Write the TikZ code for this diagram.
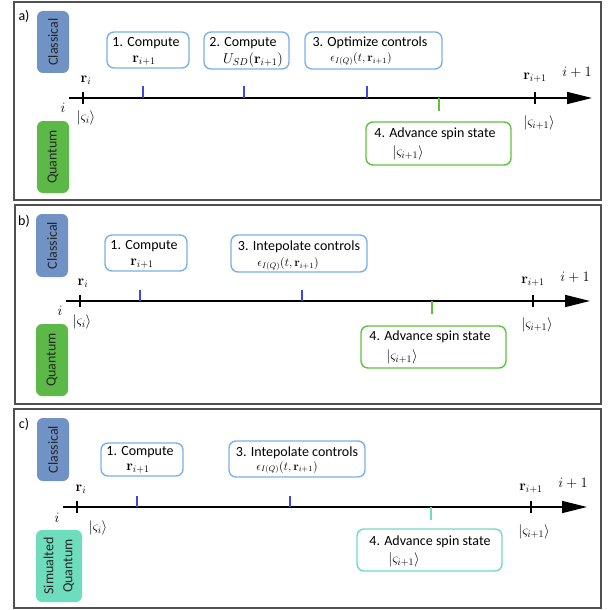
\documentclass[tikz,border=0pt]{standalone}
\usepackage[no-math]{fontspec}
\setmainfont{Carlito}
\usetikzlibrary{arrows.meta}
\definecolor{clsfill}{HTML}{7092C4}
\definecolor{qfill}{HTML}{5DB947}
\definecolor{sqfill}{HTML}{6DDDBE}
\definecolor{bbord}{HTML}{7AB0F0}
\definecolor{gbord}{HTML}{5EC23C}
\definecolor{tbord}{HTML}{6EDDC0}
\definecolor{btick}{HTML}{3A48E8}
\definecolor{pbord}{HTML}{505050}
\begin{document}
\begin{tikzpicture}[x=1pt,y=-1pt,
  txt/.style={font=\fontsize{14}{16}\selectfont, inner sep=0pt},
  mth/.style={font=\fontsize{14.4}{16}\selectfont, inner sep=0pt},
  bmth/.style={font=\fontsize{14.4}{16}\selectfont, inner sep=0pt},
  emth/.style={font=\fontsize{12}{14}\selectfont, inner sep=0pt},
  panel/.style={draw=pbord, line width=1.3pt},
  sidebox/.style={rounded corners=6pt, inner sep=0pt, rotate=90, font=\fontsize{14}{17}\selectfont, text=black!85, align=center},
  stepbox/.style={draw=bbord, line width=1.4pt, rounded corners=7pt, fill=white, inner sep=0pt},
  qstepbox/.style={stepbox, draw=gbord},
  tstepbox/.style={stepbox, draw=tbord},
  tline/.style={line width=1.6pt, -{Triangle[length=25pt,width=12pt]}},
  ktick/.style={line width=1.6pt, black},
  btk/.style={line width=1.6pt, btick},
  gtk/.style={line width=1.6pt, gbord},
  ttk/.style={line width=1.6pt, tbord}]
\useasboundingbox (0,0) rectangle (611,610);

% ---------------- panel a
\draw[panel] (14,2) rectangle (601,200);
\node[txt] (la) at (24,16) {a)};
\node[sidebox, fill=clsfill, minimum width=62, minimum height=32] (ca) at (53,42) {Classical};
\node[sidebox, fill=qfill, minimum width=72, minimum height=32] (qa) at (53,157) {Quantum};
\coordinate (sa) at (69,98); \coordinate (ea) at (592,98);
\draw[tline] (sa) -- (ea);
\draw[ktick] (83,92) -- (83,104);
\draw[ktick] (535,92) -- (535,104);
\draw[btk] (143,86) -- (143,98);
\draw[btk] (244,86) -- (244,98);
\draw[btk] (367,86) -- (367,98);
\draw[gtk] (439,98) -- (439,111);
\node[mth] (ria) at (86,80) {$\mathbf{r}_i$};
\node[mth] (ia) at (63,108) {$i$};
\node[mth] (kia) at (86,118) {$|\varsigma_i\rangle$};
\node[mth] (rja) at (535,78) {$\mathbf{r}_{i+1}$};
\node[mth] (ja) at (577,72) {$i+1$};
\node[mth] (kja) at (539,123) {$|\varsigma_{i+1}\rangle$};
\node[stepbox, minimum width=82, minimum height=36] (a1) at (148,50) {};
\node[txt] at (146,43.5) {1. Compute};
\node[bmth] at (144,60.5) {$\mathbf{r}_{i+1}$};
\node[stepbox, minimum width=85, minimum height=37] (a2) at (246.5,50.5) {};
\node[txt] at (243,43) {2. Compute};
\node[bmth] at (253,60) {$U_{SD}(\mathbf{r}_{i+1})$};
\node[stepbox, minimum width=137, minimum height=37] (a3) at (373.5,50.5) {};
\node[txt] at (370,43) {3. Optimize controls};
\node[emth] at (361,59) {$\epsilon_{I(Q)}(t,\mathbf{r}_{i+1})$};
\node[qstepbox, minimum width=145, minimum height=43] (a4) at (438.5,143.5) {};
\node[txt] at (435,134) {4. Advance spin state};
\node[bmth] at (408,152.5) {$\big|\varsigma_{i+1}\big\rangle$};

% ---------------- panel b
\draw[panel] (15,205) rectangle (601,404);
\node[txt] (lb) at (24,221) {b)};
\node[sidebox, fill=clsfill, minimum width=63, minimum height=32] (cb) at (52,245.5) {Classical};
\node[sidebox, fill=qfill, minimum width=72, minimum height=32] (qb) at (52,360) {Quantum};
\coordinate (sb) at (66,301); \coordinate (eb) at (590,301);
\draw[tline] (sb) -- (eb);
\draw[ktick] (80,295) -- (80,307);
\draw[ktick] (533,295) -- (533,307);
\draw[btk] (140,290) -- (140,301);
\draw[btk] (302,290) -- (302,301);
\draw[gtk] (432,301) -- (432,314);
\node[mth] (rib) at (83,283) {$\mathbf{r}_i$};
\node[mth] (ib) at (60,311) {$i$};
\node[mth] (kib) at (82,322) {$|\varsigma_i\rangle$};
\node[mth] (rjb) at (533,282) {$\mathbf{r}_{i+1}$};
\node[mth] (jb) at (575,277) {$i+1$};
\node[mth] (kjb) at (537,325) {$|\varsigma_{i+1}\rangle$};
\node[stepbox, minimum width=82, minimum height=36] (b1) at (146,253) {};
\node[txt] at (144,246.5) {1. Compute};
\node[bmth] at (142,263.5) {$\mathbf{r}_{i+1}$};
\node[stepbox, minimum width=136, minimum height=37] (b3) at (299,253.5) {};
\node[txt] at (299,247) {3. Intepolate controls};
\node[emth] at (288,264) {$\epsilon_{I(Q)}(t,\mathbf{r}_{i+1})$};
\node[qstepbox, minimum width=145, minimum height=42] (b4) at (433.5,347) {};
\node[txt] at (430,337) {4. Advance spin state};
\node[bmth] at (402,356.5) {$\big|\varsigma_{i+1}\big\rangle$};

% ---------------- panel c
\draw[panel] (14,409) rectangle (601,608);
\node[txt] (lc) at (24,424) {c)};
\node[sidebox, fill=clsfill, minimum width=63, minimum height=32] (cc) at (53,449.5) {Classical};
\node[sidebox, fill=sqfill, minimum width=72, minimum height=46, font=\fontsize{14}{19}\selectfont] (qc) at (59,566) {Simualted\\Quantum};
\coordinate (sc) at (63,507); \coordinate (ec) at (587,507);
\draw[tline] (sc) -- (ec);
\draw[ktick] (77,501) -- (77,513);
\draw[ktick] (531,501) -- (531,513);
\draw[btk] (137,496) -- (137,507);
\draw[btk] (290,496) -- (290,507);
\draw[ttk] (431,507) -- (431,520);
\node[mth] (ric) at (81,489) {$\mathbf{r}_i$};
\node[mth] (ic) at (57,518) {$i$};
\node[mth] (kic) at (98,528) {$|\varsigma_i\rangle$};
\node[mth] (rjc) at (531,489) {$\mathbf{r}_{i+1}$};
\node[mth] (jc) at (573,483) {$i+1$};
\node[mth] (kjc) at (534,532) {$|\varsigma_{i+1}\rangle$};
\node[stepbox, minimum width=82, minimum height=33] (c1) at (142,459.5) {};
\node[txt] at (140,452) {1. Compute};
\node[bmth] at (138,469) {$\mathbf{r}_{i+1}$};
\node[stepbox, minimum width=136, minimum height=36] (c3) at (297,459) {};
\node[txt] at (297,452.5) {3. Intepolate controls};
\node[emth] at (287,467.5) {$\epsilon_{I(Q)}(t,\mathbf{r}_{i+1})$};
\node[tstepbox, minimum width=145, minimum height=42] (c4) at (429.5,550) {};
\node[txt] at (430,541.5) {4. Advance spin state};
\node[bmth] at (404,559.5) {$\big|\varsigma_{i+1}\big\rangle$};
\end{tikzpicture}
\end{document}
